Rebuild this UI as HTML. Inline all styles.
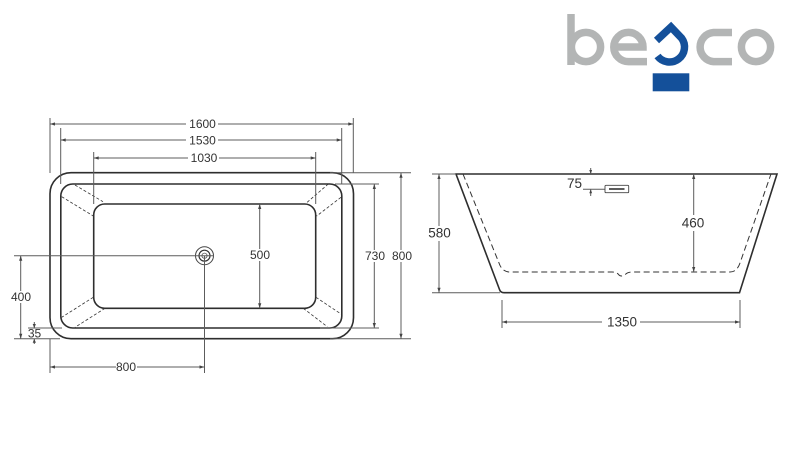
<!DOCTYPE html>
<html>
<head>
<meta charset="utf-8">
<style>
html,body{margin:0;padding:0;background:#fff}
svg{display:block}
text{font-family:"Liberation Sans",sans-serif;font-size:12px;fill:#333;text-anchor:middle;dominant-baseline:central}
.s{font-size:13.5px}
.o{fill:none;stroke:#2e2e2e;stroke-width:1.6}
.d{fill:none;stroke:#5c5c5c;stroke-width:1}
.k{fill:none;stroke:#333;stroke-width:.8;stroke-dasharray:3 2}
.a{fill:#444}
</style>
</head>
<body>
<svg width="786" height="461" viewBox="0 0 786 461" xmlns="http://www.w3.org/2000/svg">
<rect width="786" height="461" fill="#fff"/>

<!-- logo -->
<g fill="none" stroke="#b3b5b5" stroke-width="7.5">
  <path d="M571 14V65"/>
  <circle cx="586" cy="47" r="14.6"/>
  <path d="M647 61.6H628.5A14.6 14.6 0 1 1 643 47H612"/>
  <path d="M732 32.5H713.5A14.6 14.6 0 0 0 713.5 61.6H732"/>
  <circle cx="756" cy="47" r="14.6"/>
</g>
<path d="M656.5 40.5L671 27L681.5 38A13.5 13.5 0 1 1 657.5 56" fill="none" stroke="#14509a" stroke-width="7.5"/>
<rect x="652.7" y="73.3" width="36.6" height="18" fill="#14509a"/>

<!-- top view body -->
<rect class="o" x="50" y="172.7" width="303.5" height="166" rx="21"/>
<rect class="o" x="60.8" y="184" width="281" height="144" rx="12"/>
<rect class="o" x="93.7" y="204" width="222" height="104.3" rx="11"/>
<path class="k" d="M75 185L103 201.7M61.7 196.7L93.3 216M328.3 184L306.7 202.7M341 197.3L316.7 216M316 297.3L341 314M303.3 308.3L327.3 326.7M93.3 297.3L61.7 317.3M105 308.3L75 327.3"/>

<!-- drain -->
<circle cx="204.5" cy="255.7" r="9" fill="none" stroke="#444" stroke-width="1"/>
<circle cx="204.5" cy="255.7" r="5.5" fill="none" stroke="#333" stroke-width="1.2"/>
<circle cx="204.5" cy="255.7" r="2.6" fill="none" stroke="#555" stroke-width=".8"/>

<!-- top dims -->
<path class="d" d="M50 118V173M353.3 118V173M60.7 128V184M341.7 128V184M93.7 152V204M315.7 152V204"/>
<path class="d" d="M50 124H186M218 124H353.3M60.7 140H186M218 140H341.7M93.7 158H188M219 158H315.7"/>
<path class="a" d="M50 124l5-1.6v3.2zM353.3 124l-5-1.6v3.2zM60.7 140l5-1.6v3.2zM341.7 140l-5-1.6v3.2zM93.7 158l5-1.6v3.2zM315.7 158l-5-1.6v3.2z"/>
<text x="202.5" y="124">1600</text>
<text x="202.5" y="140.5">1530</text>
<text x="204" y="158">1030</text>

<!-- right dims -->
<path class="d" d="M330 172.7H411M330 338.7H411M335 184H379M320 328H379"/>
<path class="d" d="M401 172.7V250M401 262V338.7M374.3 184V250M374.3 262V328M259.7 204V249M259.7 261V308.3"/>
<path class="a" d="M401 172.7l-1.6 5h3.2zM401 338.7l-1.6-5h3.2zM374.3 184l-1.6 5h3.2zM374.3 328l-1.6-5h3.2zM259.7 204l-1.6 5h3.2zM259.7 308.3l-1.6-5h3.2z"/>
<text x="402" y="256">800</text>
<text x="375" y="256">730</text>
<text x="260" y="255">500</text>

<!-- left/bottom dims -->
<path class="d" d="M14 255.7H214M14 338.7H60M28 328H62"/>
<path class="d" d="M20.7 255.7V291M20.7 303V338.7M34.3 322V328M34.3 339V344"/>
<path class="a" d="M20.7 255.7l-1.6 5h3.2zM20.7 338.7l-1.6-5h3.2zM34.3 328l-1.6-4h3.2zM34.3 338.7l-1.6 4h3.2z"/>
<text x="21" y="297">400</text>
<text x="34.5" y="333.5">35</text>
<path class="d" d="M50 339V373M204.5 256V373M50 367H116M137 367H204.5"/>
<path class="a" d="M50 367l5-1.6v3.2zM204.5 367l-5-1.6v3.2z"/>
<text x="126" y="367">800</text>

<!-- side view -->
<path class="o" d="M456 174H777L739.5 292.7H504Q500.5 292.7 499.5 289.5Z"/>
<path fill="none" stroke="#333" stroke-width="1" stroke-dasharray="6 3.5" d="M463 174L499 263Q502 272 510 272H612Q617 272 619 275Q621 277 625 275Q627 272 632 272H730Q737 272 740 263L771 174"/>
<path class="d" d="M432 174H456M432 292.7H500"/>
<path class="d" d="M439 174V226M439 241V292.7"/>
<path class="a" d="M439 174l-1.6 5h3.2zM439 292.7l-1.6-5h3.2z"/>
<text class="s" x="439.5" y="233">580</text>

<path class="d" d="M502 300V328M740 300V328M502 322H602M640 322H740"/>
<path class="a" d="M502 322l5-1.6v3.2zM740 322l-5-1.6v3.2z"/>
<text class="s" x="622" y="322">1350</text>

<path class="d" d="M693.7 174V215M693.7 231V272"/>
<path class="a" d="M693.7 174l-1.6 5h3.2zM693.7 272l-1.6-5h3.2z"/>
<text class="s" x="693" y="223">460</text>

<!-- overflow -->
<path class="d" d="M583 189.3H605M590.7 168V174M590.7 189.3V196"/>
<path class="a" d="M590.7 174l-1.4-4h2.8zM590.7 189.3l-1.4 4h2.8z"/>
<rect x="605" y="185.3" width="23.7" height="7.4" rx="1" fill="none" stroke="#444" stroke-width=".9"/>
<path d="M609 189H624.5" stroke="#333" stroke-width="1.6" fill="none"/>
<text class="s" x="574.5" y="183.5">75</text>
</svg>
</body>
</html>
